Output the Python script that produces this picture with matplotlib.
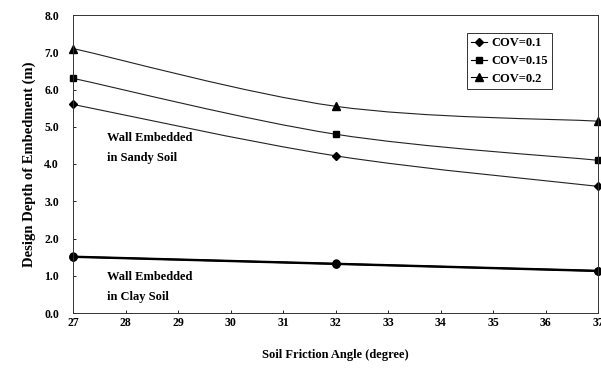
import numpy as np
import matplotlib.pyplot as plt
from matplotlib.path import Path
from matplotlib.patches import PathPatch
from matplotlib.lines import Line2D

plt.rcParams["font.family"] = ["Liberation Serif", "DejaVu Serif"]
plt.rcParams["font.weight"] = "bold"

# soil friction angle (degree)
angle = [27, 32, 37]

# design depth of embedment (m), wall in sandy soil
sandy_cov01 = [5.6, 4.22, 3.4]
sandy_cov015 = [6.3, 4.8, 4.1]
sandy_cov02 = [7.1, 5.55, 5.15]

# wall in clay soil (the three COV curves nearly coincide)
clay_cov01 = [1.50, 1.31, 1.12]
clay_cov015 = [1.51, 1.32, 1.13]
clay_cov02 = [1.52, 1.33, 1.14]

cov_labels = ["COV=0.1", "COV=0.15", "COV=0.2"]
markers = ["D", "s", "^"]
marker_sizes = [3.8, 4.5, 5.2]
x_ticks = list(range(27, 38))
y_ticks = np.arange(0, 9, 1.0)


def smooth_path(x, y):
    """Excel-style smoothed line: Catmull-Rom spline as cubic Bezier segments."""
    pts = np.column_stack([x, y]).astype(float)
    ext = np.vstack([pts[0], pts, pts[-1]])
    verts = [pts[0]]
    codes = [Path.MOVETO]
    for i in range(1, len(ext) - 2):
        p0, p1, p2, p3 = ext[i - 1], ext[i], ext[i + 1], ext[i + 2]
        verts += [p1 + (p2 - p0) / 6, p2 - (p3 - p1) / 6, p2]
        codes += [Path.CURVE4] * 3
    return Path(verts, codes)


fig = plt.figure(figsize=(6.01, 3.69), dpi=100)
ax = fig.add_axes([73 / 601, 1 - 313 / 369, (598 - 73) / 601, (313 - 15) / 369])

sandy = [sandy_cov01, sandy_cov015, sandy_cov02]
clay = [clay_cov01, clay_cov015, clay_cov02]

for vals, m, ms in zip(sandy, markers, marker_sizes):
    ax.add_patch(PathPatch(smooth_path(angle, vals), fill=False, ec="#222222",
                           lw=0.8, transform=ax.transData))
    ax.plot(angle, vals, ls="none", marker=m, ms=ms, color="black", clip_on=False)

for vals in clay:
    ax.add_patch(PathPatch(smooth_path(angle, vals), fill=False, ec="black",
                           lw=1.2, transform=ax.transData))
    ax.plot(angle, vals, ls="none", marker="o", ms=5, color="black", clip_on=False)

ax.set_xlim(27, 37)
ax.set_ylim(0, 8)
ax.set_xticks(x_ticks)
ax.set_yticks(y_ticks)
ax.set_yticklabels([f"{v:.1f}" for v in y_ticks])
ax.tick_params(direction="in", length=2.5, width=0.6, labelsize=8.5, pad=3)
ax.tick_params(axis="y", pad=10)
for s in ax.spines.values():
    s.set_linewidth(0.7)
    s.set_color("#333333")

ax.set_xlabel("Soil Friction Angle (degree)", fontsize=9, fontweight="bold", labelpad=14)
ax.set_ylabel("Design Depth of Embedment (m)", fontsize=10.5, fontweight="bold", labelpad=6)

ax.text(27.65, 4.86, "Wall Embedded\nin Sandy Soil", fontsize=9, fontweight="bold",
        va="top", ha="left", linespacing=1.9)
ax.text(27.65, 1.12, "Wall Embedded\nin Clay Soil", fontsize=9, fontweight="bold",
        va="top", ha="left", linespacing=1.9)

handles = [Line2D([], [], color="black", lw=0.8, marker=m, ms=ms)
           for m, ms in zip(markers, marker_sizes)]
leg = ax.legend(handles, cov_labels, loc="upper left", bbox_to_anchor=(0.75, 0.94),
                borderaxespad=0, frameon=True, fancybox=False, edgecolor="black",
                handlelength=1.3, handletextpad=0.3, borderpad=0.35, labelspacing=0.45,
                prop={"weight": "bold", "size": 9})
leg.get_frame().set_linewidth(0.7)

fig.savefig("out.png", dpi=100)
